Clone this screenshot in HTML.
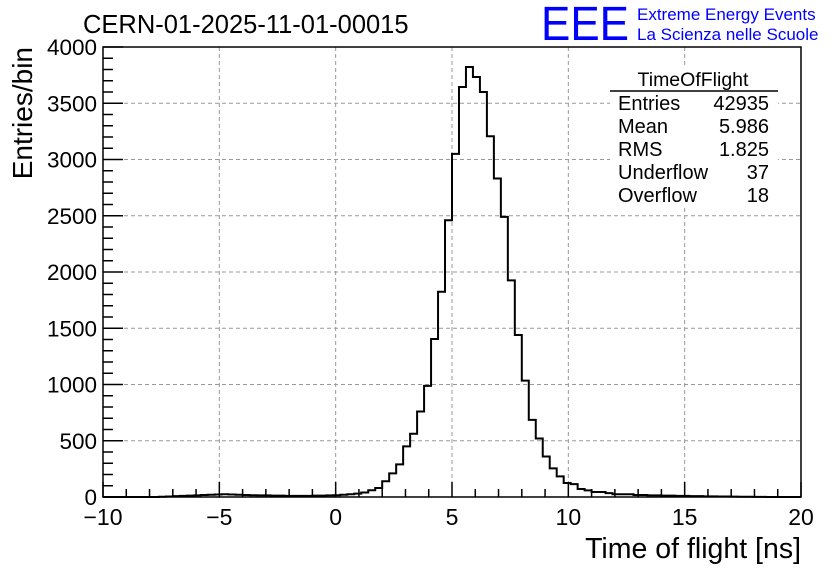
<!DOCTYPE html>
<html><head><meta charset="utf-8"><style>
body{margin:0;background:#fff;}
svg text{font-family:"Liberation Sans",sans-serif;}
</style></head><body>
<svg id="c" width="836" height="572" xmlns="http://www.w3.org/2000/svg">
<rect width="836" height="572" fill="#fff"/>
<text x="83" y="33" font-size="25.5">CERN-01-2025-11-01-00015</text>
<text x="541" y="40" font-size="48" fill="#0000ff" textLength="88" lengthAdjust="spacingAndGlyphs">EEE</text>
<text x="637" y="20" font-size="17" fill="#0000ff">Extreme Energy Events</text>
<text x="637" y="40" font-size="17" fill="#0000ff">La Scienza nelle Scuole</text>
<g id="grid"></g>
<path id="hist" fill="none" stroke="#000" stroke-width="2"/>
<g id="axes"></g>
<rect x="103" y="47" width="698" height="450" fill="none" stroke="#000" stroke-width="1.5"/>
<text x="801" y="558" font-size="28.5" text-anchor="end">Time of flight [ns]</text>
<text transform="translate(32,47) rotate(-90)" font-size="28" text-anchor="end">Entries/bin</text>
<g font-size="20">
<rect x="610" y="68" width="168" height="140" fill="#fff"/>
<text x="693" y="86" text-anchor="middle" font-size="19.5">TimeOfFlight</text>
<line x1="610" y1="91" x2="778" y2="91" stroke="#000" stroke-width="1.5"/>
<text x="618" y="110">Entries</text><text x="769" y="110" text-anchor="end">42935</text>
<text x="618" y="133">Mean</text><text x="769" y="133" text-anchor="end">5.986</text>
<text x="618" y="156">RMS</text><text x="769" y="156" text-anchor="end">1.825</text>
<text x="618" y="179">Underflow</text><text x="769" y="179" text-anchor="end">37</text>
<text x="618" y="202">Overflow</text><text x="769" y="202" text-anchor="end">18</text>
</g>
</svg>
<script>
const xMin=-10, xMax=20, binWidth=0.3;
const counts=[0,0,0,0,0,0,0,0,2,
5,8,10,12,15,18,20,22,25,22,20,18,
16,15,14,12,12,10,10,10,10,12,12,14,16,20,25,30,
40,60,80,140,210,290,450,562,760,988,1405,1825,2460,
3050,3645,3822,3733,3600,3207,2831,2490,1926,1440,1035,686,520,360,255,183,124,
115,71,59,44,44,35,25,25,25,18,18,15,15,12,12,10,10,8,8,6,6,5,4,3,2,2,1,1,0,0,0,0,0];
const xTicks=[-10,-5,0,5,10,15,20];
const yTicks=[0,500,1000,1500,2000,2500,3000,3500,4000];
const X0=103,X1=801,Y0=497,Y1=47,yMax=4000;
const sx=v=>X0+(v-xMin)/(xMax-xMin)*(X1-X0);
const sy=v=>Y0-v/yMax*(Y0-Y1);
const NS="http://www.w3.org/2000/svg";
const grid=document.getElementById('grid'), axes=document.getElementById('axes');
function mk(tag,attrs,parent){const e=document.createElementNS(NS,tag);for(const k in attrs)e.setAttribute(k,attrs[k]);parent.appendChild(e);return e;}
xTicks.forEach(t=>{
 if(t>xMin&&t<xMax){const g=mk('line',{x1:sx(t),x2:sx(t),y1:Y1,y2:Y0,stroke:'#999','stroke-dasharray':'4,3'},grid);
 
 }
 const tk=mk('line',{x1:sx(t),x2:sx(t),y1:Y0,y2:Y0-15,stroke:'#000','stroke-width':1.5},axes);
 
 
 const lb=mk('text',{x:sx(t),y:Y0+28,'font-size':23,'text-anchor':'middle'},axes);
 lb.textContent=(t<0?'\u2212'+(-t):t);
 
 
});
for(let v=xMin;v<=xMax;v+=1){if(v%5===0)continue;
 const m=mk('line',{x1:sx(v),x2:sx(v),y1:Y0,y2:Y0-8,stroke:'#000','stroke-width':1.5},axes);
 
 }
yTicks.forEach(t=>{
 if(t>0&&t<yMax){const g=mk('line',{x1:X0,x2:X1,y1:sy(t),y2:sy(t),stroke:'#999','stroke-dasharray':'4,3'},grid);
 
 }
 const tk=mk('line',{x1:X0,x2:X0+20,y1:sy(t),y2:sy(t),stroke:'#000','stroke-width':1.5},axes);
 
 
 const lb=mk('text',{x:X0-6,y:sy(t)+8,'font-size':22.5,'text-anchor':'end'},axes);
 lb.textContent=t;
 
 
});
for(let v=0;v<=yMax;v+=100){if(v%500===0)continue;
 const m=mk('line',{x1:X0,x2:X0+10,y1:sy(v),y2:sy(v),stroke:'#000','stroke-width':1.5},axes);
 
 }
let d='M'+sx(xMin)+','+sy(0);
counts.forEach((c,i)=>{const a=xMin+i*binWidth,b=a+binWidth;d+=' L'+sx(a)+','+sy(c)+' L'+sx(b)+','+sy(c);});
d+=' L'+sx(xMax)+','+sy(0);
document.getElementById('hist').setAttribute('d',d);
</script>
</body></html>
